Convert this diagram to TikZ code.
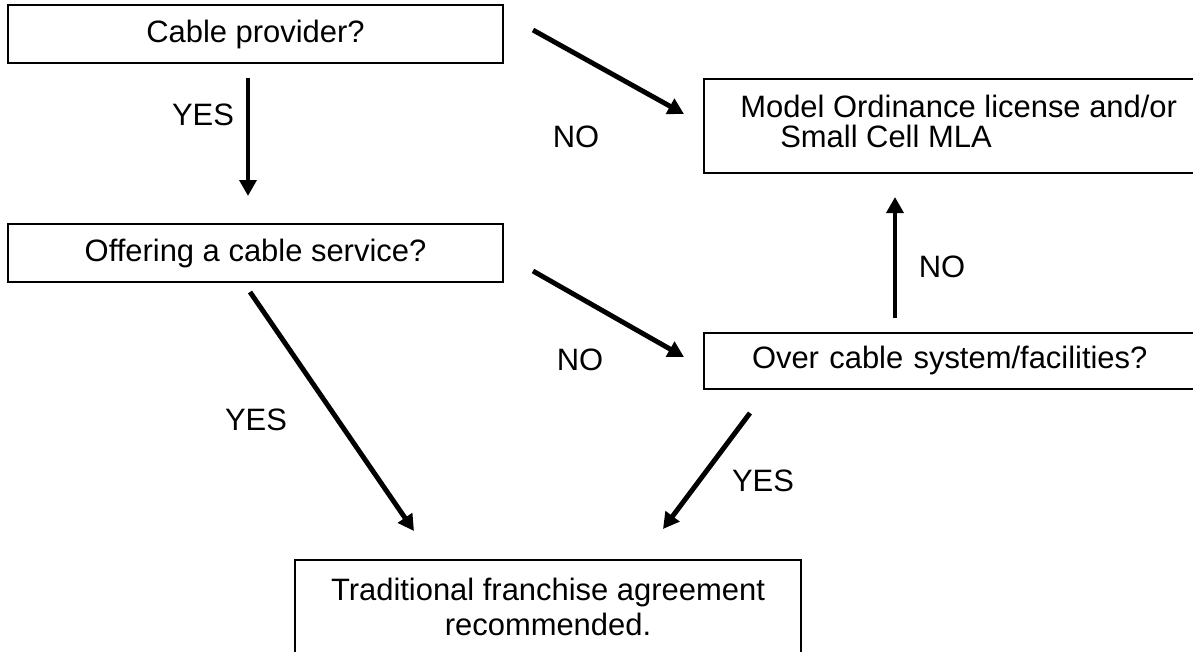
\documentclass[tikz,border=0pt]{standalone}
\usepackage{fontspec}
\setmainfont{Liberation Sans}
\usetikzlibrary{arrows.meta}

\begin{document}
\begin{tikzpicture}[x=0.025cm, y=-0.025cm,
	font=\fontsize{22}{25.3}\selectfont,
	qbox/.style={draw, line width=1.4pt, inner sep=0pt},
	flow/.style={line width=3.5pt, -{Triangle[length=0.4cm, width=0.42cm]}}]

	\useasboundingbox (0,0) rectangle (1193,652);
	\clip (0,0) rectangle (1193,652);

	\node[qbox, minimum width=12.375cm, minimum height=1.45cm] (cable) at (255.5,34) {Cable provider?};
	\node[qbox, minimum width=12.375cm, minimum height=1.45cm] (offer) at (255.5,253) {Offering a cable service?};
	\node[qbox, anchor=north west, minimum width=12.8cm, minimum height=2.35cm] (model) at (703,78) {};
	\node[anchor=north west, align=left, inner sep=0pt, font=\fontsize{22}{21.4}\selectfont] (modeltext) at (740,95) {Model Ordinance license and/or\\\hspace*{1.0cm}Small Cell MLA};
	\node[qbox, anchor=north west, minimum width=12.8cm, minimum height=1.4cm, inner xsep=1.2cm, text width=10.4cm, align=left] (over) at (703,332) {Over cable system/facilities?};
	\node[qbox, anchor=north, minimum width=12.65cm, minimum height=3cm] (rec) at (548,559) {};
	\node[anchor=north, align=center, inner sep=0pt, font=\fontsize{22}{24.9}\selectfont] (rectext) at (548,578) {Traditional franchise agreement\\recommended.};

	\coordinate (a1) at (533,30);
	\coordinate (b1) at (684,114);
	\coordinate (a2) at (248,78);
	\coordinate (b2) at (248,196);
	\coordinate (a3) at (533,271);
	\coordinate (b3) at (684,357);
	\coordinate (a4) at (250,292);
	\coordinate (b4) at (414,531);
	\coordinate (a5) at (750,413);
	\coordinate (b5) at (663,529);
	\coordinate (a6) at (895,318);
	\coordinate (b6) at (895,197);

	\draw[flow] (a1) -- (b1);
	\draw[flow] (a2) -- (b2);
	\draw[flow] (a3) -- (b3);
	\draw[flow] (a4) -- (b4);
	\draw[flow] (a5) -- (b5);
	\draw[flow] (a6) -- (b6);

	\node (no1) at (576,137) {NO};
	\node (yes1) at (203,115) {YES};
	\node (no2) at (580,360) {NO};
	\node (yes2) at (256,420) {YES};
	\node (yes3) at (763,481) {YES};
	\node (no3) at (942,267) {NO};

\end{tikzpicture}
\end{document}
